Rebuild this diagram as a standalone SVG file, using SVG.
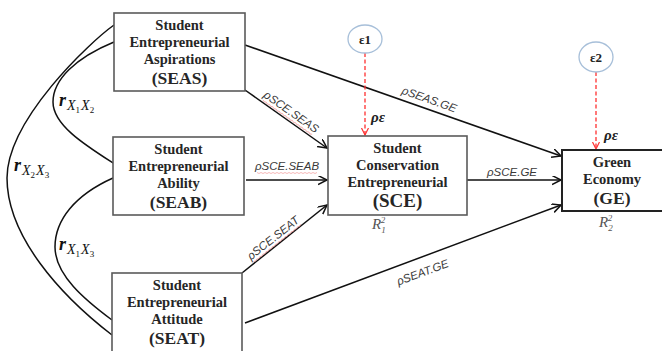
<svg xmlns="http://www.w3.org/2000/svg" xmlns:xlink="http://www.w3.org/1999/xlink" width="662" height="351" viewBox="0 0 662 351">
<style>
.box{fill:#fff;stroke:#5a5a5a;stroke-width:1.6}
.boxd{fill:#fff;stroke:#222;stroke-width:2}
.nt{font-family:"Liberation Serif","DejaVu Serif",serif;font-weight:bold;font-size:14.5px;fill:#262626;text-anchor:middle}
.ab{font-size:17.5px}
.conn{stroke:#111;stroke-width:1.5;fill:none;marker-end:url(#arr)}
.corr{stroke:#111;stroke-width:1.5;fill:none}
.lbl{font-family:"Liberation Sans",sans-serif;font-style:italic;font-size:11.5px;fill:#3a3a3a;text-anchor:middle}
.err{stroke:#ff3030;stroke-width:1.3;stroke-dasharray:4 2.5;fill:none;marker-end:url(#rarr)}
.circ{fill:#fff;stroke:#a7bfd9;stroke-width:1.3}
.sq{stroke:#f08a8a;stroke-width:0.6;fill:none}
.el{font-family:"Liberation Serif","DejaVu Serif",serif;font-weight:bold;font-size:13px;fill:#222;text-anchor:middle}
.rho{font-family:"Liberation Serif","DejaVu Serif",serif;font-weight:bold;font-style:italic;font-size:15px;fill:#222}
.r{font-family:"Liberation Serif","DejaVu Serif",serif;font-weight:bold;font-style:italic;font-size:18px;fill:#111}
.sx{font-weight:normal;font-size:14px}
.sd{font-weight:normal;font-style:normal;font-size:9px}
.rr{font-family:"Liberation Serif","DejaVu Serif",serif;font-style:italic;font-size:15px;fill:#555}
</style>
<defs>
<marker id="arr" markerUnits="userSpaceOnUse" markerWidth="12" markerHeight="12" refX="9" refY="4.5" orient="auto">
<path d="M0,0 L9,4.5 L0,9" fill="none" stroke="#111" stroke-width="1.5"/>
</marker>
<marker id="rarr" markerUnits="userSpaceOnUse" markerWidth="10" markerHeight="10" refX="7" refY="3.5" orient="auto">
<path d="M0,0 L7,3.5 L0,7" fill="none" stroke="#ff3030" stroke-width="1.2"/>
</marker>
<path id="sq" class="sq" d="M-30,0 l2,1 l2,-1 l2,1 l2,-1 l2,1 l2,-1 l2,1 l2,-1 l2,1 l2,-1 l2,1 l2,-1 l2,1 l2,-1 l2,1 l2,-1 l2,1 l2,-1 l2,1 l2,-1 l2,1 l2,-1 l2,1 l2,-1 l2,1 l2,-1 l2,1 l2,-1 l2,1 l2,-1"/>
</defs>
<rect width="662" height="351" fill="#fff"/>

<g id="connectors">
<path class="corr" d="M114,25 C90,42 7,120 7,178 C7,236 60,295 112,335"/>
<path class="corr" d="M114,42 C75,58 53,80 53,102 C53,125 85,145 113,163"/>
<path class="corr" d="M113,178 C75,195 55,220 55,247 C55,275 85,300 112,320"/>
<path class="conn" d="M245,45 L561,156"/>
<path class="conn" d="M245,90 L327,148"/>
<path class="conn" d="M246,180 L327,180"/>
<path class="conn" d="M242,273 L327,205"/>
<path class="conn" d="M245,323 L561,205"/>
<path class="conn" d="M467,180 L561,180"/>
<path class="err" d="M365,53 L365,135"/>
<path class="err" d="M596,72 L596,149"/>
</g>

<g id="edge-labels">
<g transform="translate(289,115) rotate(35)"><text class="lbl" x="0" y="0">ρSCE.SEAS</text><use xlink:href="#sq" y="2.5"/></g>
<g transform="translate(287,170)"><text class="lbl" x="0" y="0">ρSCE.SEAB</text><use xlink:href="#sq" y="2.5"/></g>
<g transform="translate(275.5,241) rotate(-38.3)"><text class="lbl" x="0" y="0">ρSCE.SEAT</text><use xlink:href="#sq" y="2.5"/></g>
<g transform="translate(428,103) rotate(19.4)"><text class="lbl" x="0" y="0">ρSEAS.GE</text></g>
<g transform="translate(424,276) rotate(-20.4)"><text class="lbl" x="0" y="0">ρSEAT.GE</text></g>
<text class="lbl" x="512" y="176">ρSCE.GE</text>
<text class="rho" x="371" y="122">ρε</text>
<text class="rho" x="604" y="140">ρε</text>
<text class="r" x="59" y="106">r<tspan class="sx" y="110" dx="1">X</tspan><tspan class="sd" y="113">1</tspan><tspan class="sx" y="110" dx="1">X</tspan><tspan class="sd" y="113">2</tspan></text>
<text class="r" x="14" y="171">r<tspan class="sx" y="175" dx="1">X</tspan><tspan class="sd" y="178">2</tspan><tspan class="sx" y="175" dx="1">X</tspan><tspan class="sd" y="178">3</tspan></text>
<text class="r" x="59" y="250">r<tspan class="sx" y="254" dx="1">X</tspan><tspan class="sd" y="257">1</tspan><tspan class="sx" y="254" dx="1">X</tspan><tspan class="sd" y="257">3</tspan></text>
</g>

<g id="SEAS">
<rect class="box" x="114" y="13" width="131" height="78"/>
<text class="nt" x="179.5" y="30">Student</text>
<text class="nt" x="179.5" y="47">Entrepreneurial</text>
<text class="nt" x="179.5" y="64">Aspirations</text>
<text class="nt ab" x="179.5" y="84">(SEAS)</text>
</g>

<g id="SEAB">
<rect class="box" x="113" y="137" width="131" height="78"/>
<text class="nt" x="178.5" y="154">Student</text>
<text class="nt" x="178.5" y="171">Entrepreneurial</text>
<text class="nt" x="178.5" y="188">Ability</text>
<text class="nt ab" x="178.5" y="208">(SEAB)</text>
</g>

<g id="SEAT">
<rect class="box" x="112" y="273" width="130" height="84"/>
<text class="nt" x="177" y="290">Student</text>
<text class="nt" x="177" y="307">Entrepreneurial</text>
<text class="nt" x="177" y="324">Attitude</text>
<text class="nt ab" x="177" y="344">(SEAT)</text>
</g>

<g id="SCE">
<rect class="box" x="328" y="136" width="139" height="79"/>
<text class="nt" x="397.5" y="153">Student</text>
<text class="nt" x="397.5" y="170">Conservation</text>
<text class="nt" x="397.5" y="187">Entrepreneurial</text>
<text class="nt ab" x="397.5" y="207" style="font-size:19px">(SCE)</text>
<text class="rr" x="372" y="229">R<tspan font-size="9" y="233">1</tspan><tspan font-size="9" y="223" dx="-5">2</tspan></text>
</g>

<g id="GE">
<rect class="boxd" x="562" y="150" width="104" height="61"/>
<text class="nt" x="612" y="167">Green</text>
<text class="nt" x="612" y="184">Economy</text>
<text class="nt ab" x="612" y="204">(GE)</text>
<text class="rr" x="599" y="227">R<tspan font-size="9" y="231">2</tspan><tspan font-size="9" y="221" dx="-5">2</tspan></text>
</g>

<g id="e1">
<ellipse class="circ" cx="365" cy="39" rx="17" ry="14"/>
<text class="el" x="365" y="44">ε1</text>
</g>

<g id="e2">
<ellipse class="circ" cx="596" cy="57" rx="17" ry="15"/>
<text class="el" x="596" y="62">ε2</text>
</g>
</svg>
